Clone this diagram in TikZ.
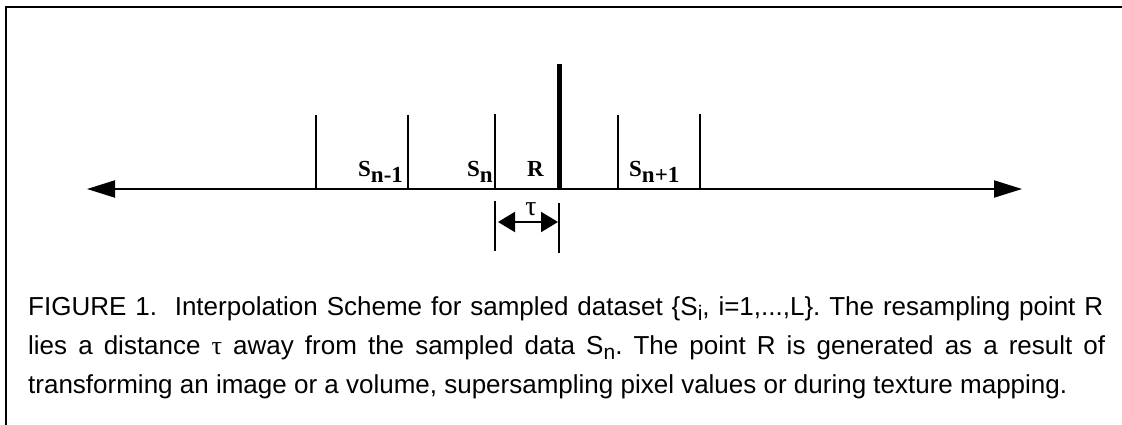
\documentclass[tikz,border=0pt]{standalone}
\usepackage{fontspec}
\setmainfont{Liberation Serif}
\newfontfamily\capfont{Liberation Sans}
\usetikzlibrary{arrows.meta}
\frenchspacing
\newcommand{\lowsub}[1]{\raisebox{-6pt}{#1}}
\newcommand{\capsub}[1]{\raisebox{-5pt}{\fontsize{21}{21}\selectfont #1}}

\begin{document}
\begin{tikzpicture}[
  x=1pt,
  y=-1pt,
  frame/.style={line width=2.2pt},
  axis/.style={line width=2pt,
               {Triangle[length=28pt,width=17pt]}-{Triangle[length=28pt,width=17pt]}},
  tick/.style={line width=2pt},
  resample/.style={line width=5pt},
  gap/.style={line width=2pt,
              {Triangle[length=17pt,width=20pt]}-{Triangle[length=17pt,width=20pt]}},
  ticktext/.style={font=\fontsize{23}{23}\selectfont\bfseries,
                   inner sep=0pt, anchor=base west},
  capline/.style={font=\capfont\fontsize{26}{28}\selectfont,
                  inner sep=0pt, anchor=base west}
]
  \useasboundingbox (0,0) rectangle (1122,425);

  % ---- frame, top and left edge only -----------------------------------
  \draw[frame, line join=miter] (6,425) -- (6,7) -- (1122,7);

  % ---- sample axis -----------------------------------------------------
  \coordinate (west) at (87,189);
  \coordinate (east) at (1022,189);
  \draw[axis] (west) -- (east);

  % ---- sample positions ------------------------------------------------
  \foreach \x/\top in {316/115, 408/115, 495/114, 618/115, 700/114}
    \draw[tick] (\x,\top) -- (\x,189);

  % ---- the resampling point --------------------------------------------
  \draw[resample] (559,64) -- (559,189);

  % ---- labels between the ticks ----------------------------------------
  \node[ticktext] (sprev) at (358,176) {S\lowsub{n-1}};
  \node[ticktext] (scur)  at (467,176) {S\lowsub{n}};
  \node[ticktext] (rpt)   at (527,176) {R};
  \node[ticktext] (snext) at (629,176) {S\lowsub{n+1}};

  % ---- offset tau from S_n to R ----------------------------------------
  \draw[tick] (495,201) -- (495,251);
  \draw[tick] (559,203) -- (559,253);
  \coordinate (gapl) at (498,222);
  \coordinate (gapr) at (558,222);
  \draw[gap] (gapl) -- (gapr);
  \node[font=\fontsize{28}{28}\selectfont, inner sep=0pt, anchor=base]
    (tau) at (531,215) {τ};

  % ---- caption ---------------------------------------------------------
  \node[capline] (cap1) at (28,315)
    {\makebox[1075pt][s]{FIGURE 1.\ \ Interpolation Scheme for sampled dataset
     \{S\capsub{i}, i=1,...,L\}. The resampling point R}};
  \node[capline] (cap2) at (28,354)
    {\makebox[1077pt][s]{lies a distance {\rmfamily τ} away from the sampled data
     S\capsub{n}. The point R is generated as a result of}};
  \node[capline] (cap3) at (28,393)
    {transforming an image or a volume, supersampling pixel values or during texture mapping.};

\end{tikzpicture}
\end{document}
